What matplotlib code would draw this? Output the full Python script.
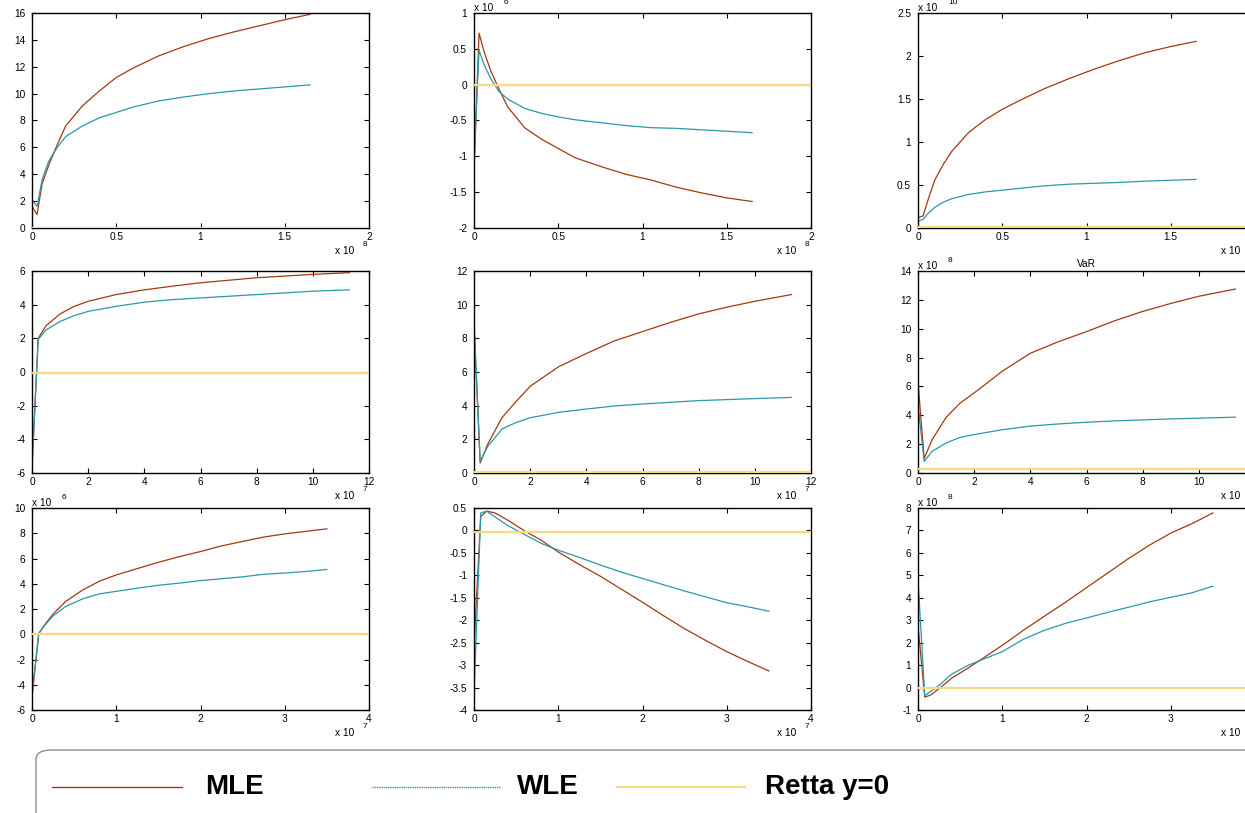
import matplotlib
matplotlib.use("Agg")
import matplotlib.pyplot as plt
from matplotlib.lines import Line2D
from matplotlib.patches import FancyBboxPatch
from matplotlib.ticker import FixedLocator, FuncFormatter

plt.rcParams['font.family'] = ['Liberation Sans', 'DejaVu Sans']
plt.rcParams['axes.unicode_minus'] = False

# ---------------- data (values in displayed units) ----------------
# row 1: x in units of 1e8
x_row1 = [0, 0.03, 0.06, 0.1, 0.15, 0.2, 0.3, 0.4, 0.5, 0.6, 0.75, 0.9, 1.05, 1.2, 1.35, 1.5, 1.65]
mle_11 = [1.6, 1.0, 3.3, 4.7, 6.2, 7.6, 9.1, 10.2, 11.2, 11.9, 12.8, 13.5, 14.1, 14.6, 15.05, 15.5, 15.9]
wle_11 = [2.1, 1.6, 3.6, 5.0, 6.0, 6.8, 7.6, 8.2, 8.6, 9.0, 9.45, 9.75, 10.0, 10.2, 10.35, 10.5, 10.65]
mle_12 = [-1.19, 0.72, 0.46, 0.19, -0.07, -0.31, -0.60, -0.76, -0.89, -1.02, -1.14, -1.25, -1.33, -1.43, -1.51, -1.58, -1.63]
wle_12 = [-1.09, 0.48, 0.28, 0.08, -0.10, -0.20, -0.33, -0.40, -0.45, -0.49, -0.53, -0.57, -0.60, -0.61, -0.63, -0.65, -0.67]
mle_13 = [0.12, 0.14, 0.33, 0.56, 0.74, 0.89, 1.11, 1.26, 1.38, 1.48, 1.62, 1.74, 1.85, 1.95, 2.04, 2.11, 2.17]
wle_13 = [0.08, 0.10, 0.17, 0.24, 0.30, 0.34, 0.39, 0.42, 0.44, 0.46, 0.49, 0.51, 0.52, 0.53, 0.545, 0.555, 0.565]

# row 2: x in units of 1e7
x_row2 = [0, 0.22, 0.5, 1.0, 1.5, 2.0, 3.0, 4.0, 5.0, 6.0, 7.0, 8.0, 9.0, 10.0, 11.3]
mle_21 = [-5.6, 2.0, 2.75, 3.45, 3.9, 4.2, 4.6, 4.88, 5.1, 5.3, 5.45, 5.6, 5.7, 5.8, 5.9]
wle_21 = [-5.7, 1.93, 2.5, 3.0, 3.35, 3.6, 3.9, 4.15, 4.3, 4.4, 4.5, 4.6, 4.7, 4.8, 4.88]
mle_22 = [8.8, 0.6, 1.75, 3.3, 4.25, 5.15, 6.3, 7.1, 7.85, 8.4, 8.95, 9.45, 9.85, 10.2, 10.6]
wle_22 = [9.0, 0.7, 1.6, 2.62, 3.0, 3.28, 3.6, 3.8, 3.98, 4.1, 4.2, 4.3, 4.36, 4.42, 4.49]
mle_23 = [6.3, 1.0, 2.3, 3.85, 4.85, 5.55, 7.05, 8.3, 9.1, 9.8, 10.55, 11.2, 11.75, 12.25, 12.75]
wle_23 = [4.7, 0.8, 1.5, 2.08, 2.47, 2.66, 3.0, 3.25, 3.4, 3.52, 3.61, 3.68, 3.75, 3.8, 3.87]

# row 3: x in units of 1e7
x_row3 = [0, 0.08, 0.15, 0.25, 0.4, 0.6, 0.8, 1.0, 1.25, 1.5, 1.75, 2.0, 2.25, 2.5, 2.75, 3.0, 3.25, 3.5]
mle_31 = [-5.0, 0.05, 0.75, 1.6, 2.6, 3.5, 4.2, 4.7, 5.2, 5.7, 6.15, 6.55, 7.0, 7.35, 7.7, 7.95, 8.15, 8.35]
wle_31 = [-4.7, 0.05, 0.7, 1.45, 2.2, 2.8, 3.2, 3.4, 3.65, 3.88, 4.05, 4.25, 4.4, 4.55, 4.75, 4.85, 4.97, 5.13]
mle_32 = [-2.57, 0.31, 0.43, 0.39, 0.23, -0.01, -0.22, -0.48, -0.76, -1.02, -1.31, -1.6, -1.9, -2.19, -2.45, -2.7, -2.92, -3.13]
wle_32 = [-3.65, 0.39, 0.43, 0.30, 0.11, -0.09, -0.29, -0.44, -0.60, -0.77, -0.93, -1.07, -1.21, -1.35, -1.48, -1.61, -1.70, -1.80]
mle_33 = [2.75, -0.43, -0.33, -0.05, 0.42, 0.88, 1.38, 1.88, 2.55, 3.18, 3.8, 4.45, 5.1, 5.75, 6.35, 6.88, 7.3, 7.78]
wle_33 = [4.82, -0.36, -0.17, 0.10, 0.60, 1.00, 1.30, 1.60, 2.15, 2.55, 2.86, 3.10, 3.35, 3.58, 3.82, 4.02, 4.22, 4.52]

# level of the "Retta y=0" line as drawn in each panel
zero_levels = [0, 0, 0.015, -0.08, 0.05, 0.25, 0, -0.04, 0]

# axis settings
x_limits = [(0, 2), (0, 12), (0, 4)]
x_ticks = [[0, 0.5, 1, 1.5, 2], [0, 2, 4, 6, 8, 10, 12], [0, 1, 2, 3, 4]]
x_exps = ['8', '7', '7']
y_limits = [(0, 16), (-2, 1), (0, 2.5), (-6, 6), (0, 12), (0, 14), (-6, 10), (-4, 0.5), (-1, 8)]
y_ticks = [list(range(0, 17, 2)), [-2, -1.5, -1, -0.5, 0, 0.5, 1], [0, 0.5, 1, 1.5, 2, 2.5],
           list(range(-6, 7, 2)), list(range(0, 13, 2)), list(range(0, 15, 2)),
           list(range(-6, 11, 2)), [-4, -3.5, -3, -2.5, -2, -1.5, -1, -0.5, 0, 0.5], list(range(-1, 9))]
y_exps = [None, '6', '10', None, None, '8', '6', None, '8']
titles = ['', '', '', '', '', 'VaR', '', '', '']

legend_labels = ['MLE', 'WLE', 'Retta y=0']

rows_x = [x_row1, x_row2, x_row3]
mle_all = [mle_11, mle_12, mle_13, mle_21, mle_22, mle_23, mle_31, mle_32, mle_33]
wle_all = [wle_11, wle_12, wle_13, wle_21, wle_22, wle_23, wle_31, wle_32, wle_33]

C_MLE = '#a13a10'
C_WLE = '#2b98aa'
C_ZERO = '#f7da7a'

# ---------------- layout ----------------
W, H = 1245, 813
fig = plt.figure(figsize=(W / 100, H / 100), dpi=100)
fig.patch.set_facecolor('white')

col_left = [32, 474, 918]
col_w = 337
row_top = [13, 271, 508]
row_bot = [228, 473, 710]

fmt = FuncFormatter(lambda v, p: ('%g' % v))

for i in range(9):
    r, c = divmod(i, 3)
    l, t, b = col_left[c], row_top[r], row_bot[r]
    ax = fig.add_axes([l / W, 1 - b / H, col_w / W, (b - t) / H])
    x = rows_x[r]
    ax.plot(x, mle_all[i], color=C_MLE, lw=0.9, zorder=3)
    ax.plot(x, wle_all[i], color=C_WLE, lw=0.9, zorder=3)
    ax.axhline(zero_levels[i], color=C_ZERO, lw=1.6, zorder=6)
    ax.set_xlim(*x_limits[r])
    ax.set_ylim(*y_limits[i])
    # the right column runs past the canvas edge: its last tick label is not on the picture
    xt = x_ticks[r] if c < 2 else x_ticks[r][:-1]
    ax.xaxis.set_major_locator(FixedLocator(xt))
    ax.yaxis.set_major_locator(FixedLocator(y_ticks[i]))
    ax.xaxis.set_major_formatter(fmt)
    ax.yaxis.set_major_formatter(fmt)
    ax.tick_params(direction='in', top=True, right=True, length=3.5, width=0.8,
                   labelsize=7.3, pad=3, colors='black')
    ax.tick_params(axis='y', pad=5)
    for s in ax.spines.values():
        s.set_linewidth(1.0)
        s.set_zorder(5)
    # x exponent label ("x 10" + exponent); right column's exponent lies past the canvas
    ax.annotate('x 10', xy=(1, 0), xycoords='axes fraction', xytext=(-15, -23),
                textcoords='offset pixels', ha='right', va='center', fontsize=7.3,
                annotation_clip=False)
    if c < 2:
        ax.annotate(x_exps[r], xy=(1, 0), xycoords='axes fraction', xytext=(-6, -16),
                    textcoords='offset pixels', ha='left', va='center', fontsize=6,
                    annotation_clip=False)
    if y_exps[i]:
        ax.annotate('x 10', xy=(0, 1), xycoords='axes fraction', xytext=(0, 5),
                    textcoords='offset pixels', ha='left', va='center', fontsize=7.3,
                    annotation_clip=False)
        ax.annotate(y_exps[i], xy=(0, 1), xycoords='axes fraction', xytext=(30, 11),
                    textcoords='offset pixels', ha='left', va='center', fontsize=6,
                    annotation_clip=False)
    if titles[i]:
        ax.set_title(titles[i], fontsize=7.3, pad=3)

# ---------------- legend ----------------
box = FancyBboxPatch((36 / W, -0.05), 1.2, (813 - 750) / H + 0.05,
                     boxstyle='round,pad=0,rounding_size=0.012',
                     transform=fig.transFigure, facecolor='white',
                     edgecolor='#8c8c8c', lw=1.0, zorder=0)
fig.patches.append(box)

leg_styles = [dict(color=C_MLE, lw=1.0, ls='-'),
              dict(color=C_WLE, lw=1.0, ls=(0, (1, 0.6))),
              dict(color=C_ZERO, lw=1.5, ls='-')]
line_x = [(52, 182), (372, 500), (617, 745)]
text_x = [205, 517, 765]
ly = 1 - 787 / H
for lab, st, (x0, x1), tx in zip(legend_labels, leg_styles, line_x, text_x):
    fig.add_artist(Line2D([x0 / W, x1 / W], [ly, ly], transform=fig.transFigure, **st))
    fig.text(tx / W, ly, lab, fontsize=20, fontweight='bold', ha='left', va='center')

fig.savefig('out.png', dpi=100, facecolor='white')
